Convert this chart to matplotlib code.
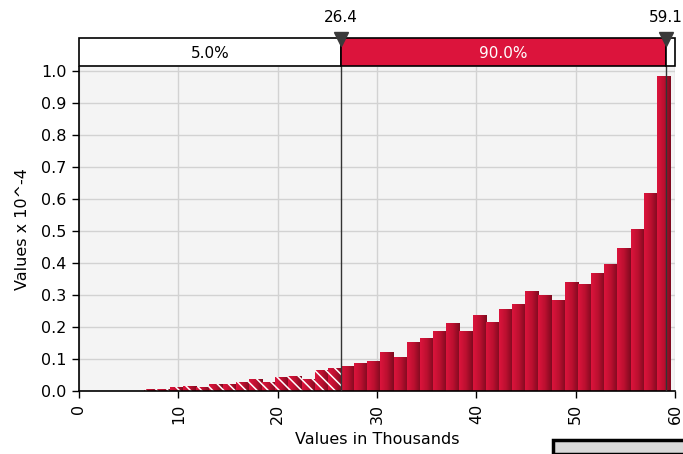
import numpy as np
import matplotlib
matplotlib.use("Agg")
import matplotlib.pyplot as plt
from matplotlib.patches import Rectangle

# ---- data ----
bin_start = 6.5
bin_width = 1.325
shaded_values = [0.005, 0.006, 0.012, 0.016, 0.013, 0.022, 0.022, 0.029,
                 0.037, 0.027, 0.044, 0.048, 0.037, 0.065, 0.072]
solid_values = [0.078, 0.088, 0.094, 0.122, 0.105, 0.154, 0.167, 0.189,
                0.211, 0.189, 0.239, 0.217, 0.255, 0.273, 0.312, 0.301,
                0.284, 0.340, 0.333, 0.368, 0.396, 0.446, 0.507, 0.620, 0.984]
left_cut = 26.4
right_cut = 59.1
band_labels = ["5.0%", "90.0%"]
x_ticks = [0, 10, 20, 30, 40, 50, 60]
y_ticks = [0.0, 0.1, 0.2, 0.3, 0.4, 0.5, 0.6, 0.7, 0.8, 0.9, 1.0]
xlabel = "Values in Thousands"
ylabel = "Values x 10^-4"

crimson = "#DC143C"
W, H = 683, 454
fig = plt.figure(figsize=(W / 100, H / 100), dpi=100)

def fx(px):
    return px / W

def fy(py):
    return 1 - py / H

ax_l, ax_r, ax_t, ax_b = 79, 675, 67, 391
ax = fig.add_axes([fx(ax_l), fy(ax_b), fx(ax_r) - fx(ax_l), fy(ax_t) - fy(ax_b)])
ax.set_facecolor("#F4F4F4")

all_values = shaded_values + solid_values
lefts = bin_start + bin_width * np.arange(len(all_values))
bars = ax.bar(lefts, all_values, width=bin_width, align="edge",
              color=crimson, edgecolor="none", zorder=2)

# horizontal gradient (bright left -> darker right) clipped to each bar
grad = np.linspace(0, 1, 64).reshape(1, -1)
cmap = matplotlib.colors.LinearSegmentedColormap.from_list(
    "g", ["#DC143C", "#BC1030", "#7E0A1F"])
for b in bars:
    x0, y0 = b.get_x(), b.get_y()
    w, h = b.get_width(), b.get_height()
    im = ax.imshow(grad, cmap=cmap, aspect="auto",
                   extent=(x0, x0 + w, y0, y0 + h), zorder=2.1,
                   interpolation="bilinear")
    im.set_clip_path(b)

# hatching on the shaded (left tail) bars
plt.rcParams["hatch.linewidth"] = 1.1
n_sh = len(shaded_values)
ax.bar(lefts[:n_sh], shaded_values, width=bin_width, align="edge",
       facecolor="none", edgecolor="white", hatch="\\\\\\", linewidth=0,
       zorder=2.2)

ax.set_xlim(0, 60)
ax.set_ylim(0, (ax_b - ax_t) / 320.0)

ax.set_xticks(x_ticks)
ax.set_xticklabels([str(t) for t in x_ticks], rotation=90)
ax.set_yticks(y_ticks)
ax.set_yticklabels([f"{t:.1f}" for t in y_ticks])
ax.grid(True, color="#D2D2D2", linewidth=1.0, zorder=1)
ax.set_axisbelow(True)
for s in ["top", "right"]:
    ax.spines[s].set_visible(False)
for s in ["left", "bottom"]:
    ax.spines[s].set_color("black")
    ax.spines[s].set_linewidth(1.2)
ax.tick_params(axis="both", direction="out", length=5, width=1,
               colors="black", labelsize=11.5, pad=4)
ax.set_xlabel(xlabel, fontsize=11.5, labelpad=6)
ax.set_ylabel(ylabel, fontsize=11.5, labelpad=8)

for c in (left_cut, right_cut):
    ax.axvline(c, color="#333333", linewidth=1.0, zorder=3)

# ---- top band ----
band_t, band_b = 38, 66
bax = fig.add_axes([fx(ax_l), fy(band_b), fx(ax_r) - fx(ax_l), fy(band_t) - fy(band_b)])
bax.set_xlim(0, 60)
bax.set_ylim(0, 1)
bax.axis("off")
bax.add_patch(Rectangle((0, 0), left_cut, 1, facecolor="white",
                        edgecolor="black", linewidth=1.2, clip_on=False))
bax.add_patch(Rectangle((left_cut, 0), right_cut - left_cut, 1,
                        facecolor=crimson, edgecolor="black", linewidth=1.2,
                        clip_on=False))
bax.add_patch(Rectangle((right_cut, 0), 60 - right_cut, 1, facecolor="white",
                        edgecolor="black", linewidth=1.2, clip_on=False))
bax.text(left_cut / 2, 0.45, band_labels[0], ha="center", va="center",
         fontsize=11, color="black")
bax.text((left_cut + right_cut) / 2, 0.45, band_labels[1], ha="center",
         va="center", fontsize=11, color="white")
for c in (left_cut, right_cut):
    bax.plot([c], [0.97], marker="v", markersize=10, color="#3A3A3A",
             clip_on=False, zorder=5)
    bax.text(c, 1.45, f"{c:.1f}", ha="center", va="bottom", fontsize=11,
             color="black", clip_on=False)

# partial legend box at bottom right
fig.patches.append(Rectangle((fx(553), 0), fx(W) - fx(553) + 0.01, fy(440),
                             transform=fig.transFigure, facecolor="#D9D9D9",
                             edgecolor="black", linewidth=2.5, zorder=10))

fig.savefig("out.png", dpi=100)
